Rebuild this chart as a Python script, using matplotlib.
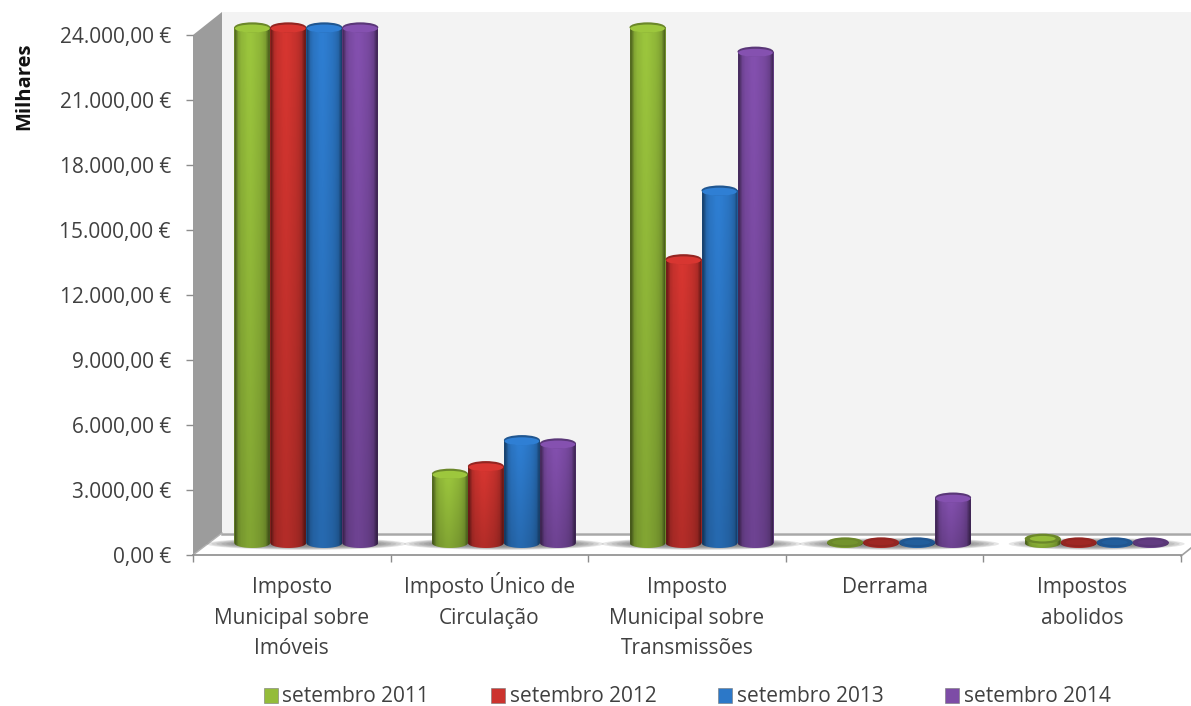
import numpy as np
import matplotlib
matplotlib.use("Agg")
import matplotlib.pyplot as plt
from matplotlib.patches import Polygon, Ellipse, Patch
from matplotlib.path import Path
from matplotlib.transforms import Affine2D, IdentityTransform
from matplotlib.ticker import FuncFormatter

categories = ["Imposto\nMunicipal sobre\nImóveis", "Imposto Único de\nCirculação",
              "Imposto\nMunicipal sobre\nTransmissões", "Derrama", "Impostos\nabolidos"]
series_names = ["setembro 2011", "setembro 2012", "setembro 2013", "setembro 2014"]
s2011 = [23800, 3200, 23800, 30, 200]
s2012 = [23800, 3550, 13100, 30, 30]
s2013 = [23800, 4750, 16270, 30, 30]
s2014 = [23800, 4600, 22680, 2100, 30]
series_values = [s2011, s2012, s2013, s2014]
series_colors = ["#94BC3A", "#CC332E", "#2C78C8", "#7D4CA6"]
y_ticks = list(range(0, 24001, 3000))

W, H = 1191, 706
plt.rcParams['font.family'] = ['Open Sans', 'DejaVu Sans']
fig = plt.figure(figsize=(W / 100, H / 100), dpi=100, facecolor='white')
X0, X1, Y0, Y1 = 193, 1181, 555, 35
ax = fig.add_axes([X0 / W, 1 - Y0 / H, (X1 - X0) / W, (Y0 - Y1) / H])
ax.patch.set_visible(False)
n = len(categories)
ID = IdentityTransform()
def px(pts):
    return [(x, H - y) for x, y in pts]

# 3D box decoration
ax.add_patch(Polygon(px([(222, 12), (1191, 12), (1191, 533), (222, 533)]), closed=True, transform=ID,
                     fc='#f3f3f3', ec='none', clip_on=False, zorder=0))
ax.add_patch(Polygon(px([(193, 35), (222, 12), (222, 533), (193, 555)]), closed=True, transform=ID,
                     fc='#9c9c9c', ec='none', clip_on=False, zorder=1))
ax.add_patch(Polygon(px([(193, 555), (222, 533), (1191, 533), (1191, 548), (1181, 556)]), closed=True, transform=ID,
                     fc='white', ec='none', clip_on=False, zorder=1))
ax.plot(*zip(*px([(222, 534), (1191, 534)])), transform=ID, color='#a8a8a8', lw=1.8, clip_on=False, zorder=2)
ax.plot(*zip(*px([(1181, 556), (1191, 548)])), transform=ID, color='#a0a0a0', lw=1.2, clip_on=False, zorder=2)
ax.plot(*zip(*px([(193, 555), (222, 533)])), transform=ID, color='#b0b0b0', lw=1.0, clip_on=False, zorder=2)

# cylinders
per_x = (X1 - X0) / n
per_y = (Y0 - Y1) / 24000
offset = ax.transData + Affine2D().translate(14.5, 12)
bw = 36 / per_x
eh = 10 / per_y
prof = np.array([0.58, 0.88, 0.97, 1.0, 1.04, 1.05, 1.03, 1.0, 0.97, 0.92, 0.84, 0.55])
z = 5
for i in range(n):
    vals = [s[i] for s in series_values]
    cx = i + 0.5
    hw = 100 if max(vals) > 1000 else 88
    for k in range(8):
        ax.add_patch(Ellipse((cx, -40), (2 * hw - k * 10) / per_x, (12 - k) / per_y, transform=offset,
                             fc='#686868', ec='none', alpha=0.16, clip_on=False, zorder=3))
for j, (vals, col) in enumerate(zip(series_values, series_colors)):
    rgb = np.array(matplotlib.colors.to_rgb(col))
    xs = np.arange(n) + 0.5 + (j - 1.5) * bw
    ax.bar(xs, vals, width=bw, color=col, transform=offset, clip_on=False, zorder=z)
    for x, v in zip(xs, vals):
        small = v < 300
        z += 1
        t = np.linspace(np.pi, 2 * np.pi, 40)
        bx = x + bw / 2 * np.cos(t)
        by = eh / 2 * np.sin(t)
        verts = list(zip(bx, by)) + [(x + bw / 2, v)] + list(zip(bx[::-1], v + 0 * bx)) + [(x - bw / 2, 0)]
        clip = Path(verts, closed=False)
        vert = np.linspace(0.84, 1.0, 12)[:, None, None]
        arr = np.clip(prof[None, :, None] * vert * rgb, 0, 1)
        im = ax.imshow(arr, extent=(x - bw / 2, x + bw / 2, -eh / 2, v), origin='lower', aspect='auto',
                       interpolation='bilinear', transform=offset, zorder=z)
        im.set_clip_box(fig.bbox)
        im.set_clip_path(clip, transform=offset)
        z += 1
        edge = rgb * 0.72
        ax.add_patch(Ellipse((x, v), bw, eh, transform=offset, fc=edge, ec='none', clip_on=False, zorder=z))
        if small:
            face = np.clip(rgb * (1.0 if v > 100 else 0.78), 0, 1)
            ax.add_patch(Ellipse((x, v), bw * 0.72, eh * 0.55, transform=offset, fc=face, ec='none',
                                 clip_on=False, zorder=z))
        else:
            ax.add_patch(Ellipse((x, v - eh * 0.12), bw * 0.96, eh * 0.8, transform=offset,
                                 fc=np.clip(rgb * 1.06, 0, 1), ec='none', clip_on=False, zorder=z))

# axes
ax.set_xlim(0, n)
ax.set_ylim(0, 24000)
for s in ['top', 'right', 'left']:
    ax.spines[s].set_visible(False)
ax.spines['bottom'].set_color('#8c8c8c')
ax.spines['bottom'].set_linewidth(1.2)
ax.spines['bottom'].set_zorder(2)
ax.set_yticks(y_ticks)
ax.yaxis.set_major_formatter(FuncFormatter(lambda v, p: f"{v:,.2f} €".replace(",", "X").replace(".", ",").replace("X", ".")))
ax.tick_params(axis='y', length=5, width=1, color='#8c8c8c', labelsize=15, labelcolor='#404040', pad=11)
ax.set_xticks(range(n + 1))
ax.set_xticklabels([])
ax.set_xticks(np.arange(n) + 0.5, categories, minor=True, linespacing=1.58)
ax.tick_params(axis='x', which='major', length=5, width=1, color='#8c8c8c')
ax.tick_params(axis='x', which='minor', length=0, labelsize=15, labelcolor='#404040', pad=16)
# the accent on the capital U pushes this two-line label down; lift it back into line
lab = ax.get_xticklabels(minor=True)[1]
lab.set_transform(lab.get_transform() + Affine2D().translate(0, 5))
fig.text(24 / W, 1 - 86 / H, "Milhares", rotation=90, ha='center', va='center', fontsize=14.5, fontweight='bold', color='#111111')

handles = [Patch(fc=c, ec='#777777', lw=0.4) for c in series_colors]
fig.legend(handles, series_names, loc='center left', bbox_to_anchor=(245 / W, 1 - 697 / H), ncol=4, frameon=False,
           fontsize=15, handlelength=0.7, handleheight=0.7, handletextpad=0.2, columnspacing=2.95, labelcolor='#404040')

fig.savefig("out.png", dpi=100, facecolor='white')
